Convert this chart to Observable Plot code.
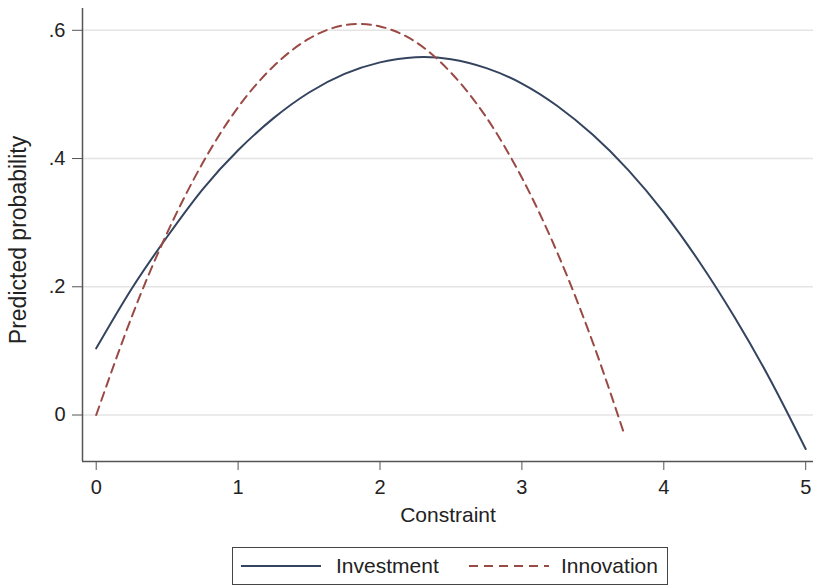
<!DOCTYPE html>
<html><head><meta charset="utf-8">
<script src="https://cdn.jsdelivr.net/npm/d3@7"></script>
<script src="https://cdn.jsdelivr.net/npm/@observablehq/plot@0.6"></script>
<style>
body{margin:0;background:#fff;font-family:"Liberation Sans",Arial,sans-serif;}
#chart{position:relative;width:815px;height:585px;}
#legend{position:absolute;left:232px;top:547px;width:436px;height:38px;border:1px solid #444;box-sizing:border-box;font-size:20px;color:#222;}
#legend .it{position:absolute;top:0;height:36px;display:flex;align-items:center;}
</style></head><body><div id="chart"></div>
<script>
const seriesNames = ["Investment", "Innovation"];
const seriesColors = ["#34445f", "#9a4a45"];
const investmentX = [0,0.25,0.5,0.75,1,1.25,1.5,1.75,2,2.25,2.5,2.75,3,3.25,3.5,3.75,4,4.25,4.5,4.75,5];
const investment  = [0.104,0.197,0.278,0.352,0.413,0.463,0.503,0.532,0.550,0.558,0.555,0.541,0.517,0.482,0.437,0.382,0.316,0.239,0.152,0.055,-0.053];
const innovationX = [0,0.25,0.5,0.75,1,1.25,1.5,1.75,2,2.25,2.5,2.75,3,3.25,3.5,3.72];
const innovation  = [0.000,0.153,0.284,0.393,0.480,0.544,0.587,0.608,0.606,0.582,0.534,0.464,0.370,0.253,0.113,-0.029];
const xTicks = [0,1,2,3,4,5];
const yTicks = [0,0.2,0.4,0.6];
const yTickLabels = ["0",".2",".4",".6"];
const xDomain = [-0.0966, 5.055];
const yDomain = [-0.0725, 0.634];

const invRows = investmentX.map((x,i)=>({x, y:investment[i]}));
const innRows = innovationX.map((x,i)=>({x, y:innovation[i]}));

const chart = Plot.plot({
  width: 815, height: 540,
  marginLeft: 82, marginRight: 2, marginTop: 8, marginBottom: 79,
  x: {domain: xDomain},
  y: {domain: yDomain},
  style: {fontFamily: '"Liberation Sans", Arial, sans-serif', fontSize: "20px", color: "#222", background: "white"},
  marks: [
    Plot.gridY(yTicks, {stroke: "#e4e4e4", strokeOpacity: 1, strokeWidth: 1.5}),
    Plot.ruleX([xDomain[0]], {stroke: "#555", strokeWidth: 1.5}),
    Plot.ruleY([yDomain[0]], {stroke: "#555", strokeWidth: 1.5}),
    Plot.axisY(yTicks, {tickFormat: d => yTickLabels[yTicks.indexOf(d)], tickSize: 10, tickPadding: 7, stroke: "#555",
      label: "Predicted probability", labelAnchor: "center", labelOffset: 73, labelArrow: "none"}),
    Plot.axisX(xTicks, {tickFormat: d => String(d), tickSize: 9, tickPadding: 9, stroke: "#555",
      label: "Constraint", labelAnchor: "center", labelOffset: 60, labelArrow: "none"}),
    Plot.line(invRows, {x: "x", y: "y", stroke: seriesColors[0], strokeWidth: 2, curve: "natural"}),
    Plot.line(innRows, {x: "x", y: "y", stroke: seriesColors[1], strokeWidth: 2, curve: "natural", strokeDasharray: "9,6"})
  ]
});
const root = document.getElementById("chart");
root.appendChild(chart);
chart.querySelectorAll('[aria-label="y-axis label"] text').forEach(t => { t.style.fontSize = "23px"; t.setAttribute("dx", "-5"); });
chart.querySelectorAll('[aria-label="x-axis label"] text').forEach(t => { t.style.fontSize = "21px"; });

const legend = document.createElement("div");
legend.id = "legend";
const positions = [[8, 103], [236, 328]];
seriesNames.forEach((name, i) => {
  const sw = document.createElement("div");
  sw.className = "it";
  sw.style.left = positions[i][0] + "px";
  sw.innerHTML = `<svg width="80" height="10"><line x1="0" x2="80" y1="5" y2="5" stroke="${seriesColors[i]}" stroke-width="2" ${i===1?'stroke-dasharray="9,6"':''}/></svg>`;
  legend.appendChild(sw);
  const tx = document.createElement("div");
  tx.className = "it";
  tx.style.left = positions[i][1] + "px";
  tx.style.fontSize = "21px";
  tx.textContent = name;
  legend.appendChild(tx);
});
root.appendChild(legend);
</script></body></html>
